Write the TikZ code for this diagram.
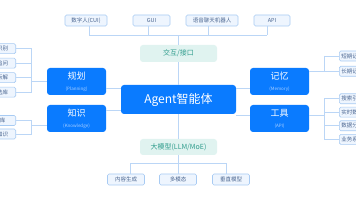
\documentclass[tikz,border=0pt]{standalone}
\usepackage{fontspec}
\setmainfont{Noto Sans CJK SC}
\definecolor{mainblue}{HTML}{0A7BFF}
\definecolor{leaffill}{HTML}{EEF5FE}
\definecolor{leafline}{HTML}{A8CBF3}
\definecolor{linkline}{HTML}{BBD6F6}
\definecolor{leaftext}{HTML}{4A6590}
\definecolor{tealfill}{HTML}{E0F3F0}
\definecolor{tealtext}{HTML}{2E9C8C}
\definecolor{subtext}{HTML}{A8CFFF}
\tikzset{
  leaf/.style={draw=leafline, fill=leaffill, rounded corners=1.5pt, line width=0.6pt,
    minimum height=10pt, minimum width=37pt, inner sep=1pt, text=leaftext,
    font=\fontsize{5.5}{6}\selectfont},
  rleaf/.style={leaf, anchor=west, text width=40pt, align=left, inner xsep=2pt},
  module/.style={fill=mainblue, rounded corners=3pt, minimum width=59pt, minimum height=27pt,
    inner sep=0pt, text=white, align=center},
  layer/.style={fill=tealfill, rounded corners=3pt, minimum width=77pt, minimum height=17pt,
    inner sep=0pt, text=tealtext, font=\fontsize{7}{8}\selectfont},
  link/.style={draw=linkline, line width=0.7pt}
}
\newcommand{\modtext}[2]{{\fontsize{9}{10}\selectfont #1}\\[-1pt]{\fontsize{4.5}{5}\selectfont\color{subtext}#2}}
\begin{document}
\begin{tikzpicture}[x=1pt,y=-1pt]
\useasboundingbox (0,0) rectangle (356,200);
\fill[white] (0,0) rectangle (356,200);
% top leaves
\node[leaf, minimum width=42pt, minimum height=11pt] (t1) at (86,20.5) {数字人(CUI)};
\node[leaf, minimum height=11pt] (t2) at (151.5,20.5) {GUI};
\node[leaf, minimum width=52pt, minimum height=11pt] (t3) at (212,20.5) {语音聊天机器人};
\node[leaf, minimum width=36pt, minimum height=11pt] (t4) at (272,20.5) {API};
\coordinate (c1) at (89,35);
\coordinate (c2) at (148,35);
\coordinate (c3) at (208,35);
\coordinate (c4) at (267,35);
% center column
\node[layer] (ui) at (178.5,53.5) {交互/接口};
\node[fill=mainblue, rounded corners=3pt, minimum width=115pt, minimum height=29pt, inner sep=0pt,
  text=white, font=\fontsize{12}{13}\selectfont] (agent) at (178.5,99.5) {Agent智能体};
\node[layer, minimum height=16pt] (llm) at (178.5,147) {大模型(LLM/MoE)};
% bottom leaves
\node[leaf, minimum height=11pt] (b1) at (126,179.5) {内容生成};
\node[leaf, minimum height=11pt] (b2) at (178,179.5) {多模态};
\node[leaf, minimum height=11pt] (b3) at (231,179.5) {垂直模型};
\coordinate (d1) at (130,163.3);
\coordinate (d2) at (178.5,163.3);
\coordinate (d3) at (226,163.3);
% modules
\node[module] (plan) at (76.5,81.5) {\modtext{规划}{(Planning)}};
\node[module] (know) at (76.5,118.5) {\modtext{知识}{(Knowledge)}};
\node[module] (mem) at (279.5,81.5) {\modtext{记忆}{(Memory)}};
\node[module] (tool) at (279.5,118.5) {\modtext{工具}{(API)}};
% left leaves
\node[leaf] (p1) at (-2.8,48.7) {意图识别};
\node[leaf] (p2) at (-2.8,63.2) {多轮追问};
\node[leaf] (p3) at (-2.8,77.7) {任务拆解};
\node[leaf] (p4) at (-2.8,92.2) {工具选库};
\node[leaf] (k1) at (-2.8,120.5) {知识库};
\node[leaf] (k2) at (-2.8,134) {领域知识};
% right leaves
\node[rleaf] (m1) at (339,56) {短期记忆};
\node[rleaf] (m2) at (339,71.3) {长期记忆};
\node[rleaf] (o1) at (339,98.8) {搜索引擎};
\node[rleaf] (o2) at (339,112.2) {实时数据};
\node[rleaf] (o3) at (339,125.8) {数据分析};
\node[rleaf] (o4) at (339,139.4) {业务系统};
% connectors top
\draw[link] (c1) -- (c4);
\draw[link] (c1) -- (c1 |- t1.south);
\draw[link] (c2) -- (c2 |- t2.south);
\draw[link] (c3) -- (c3 |- t3.south);
\draw[link] (c4) -- (c4 |- t4.south);
\draw[link] (ui.north) -- (ui.north |- c1);
\draw[link] (ui.south) -- (agent.north);
\draw[link] (agent.south) -- (llm.north);
\draw[link] (llm.south) -- (d2);
\draw[link] (d1) -- (d3);
\draw[link] (d1) -- (d1 |- b1.north);
\draw[link] (d3) -- (d3 |- b3.north);
\draw[link] (d2) -- (d2 |- b2.north);
% modules to agent
\draw[link] ([yshift=-6.5pt]plan.east) coordinate (e1) -- (e1 -| agent.west);
\draw[link] ([yshift=8.5pt]know.east) coordinate (e2) -- (e2 -| agent.west);
\draw[link] ([yshift=-6.5pt]mem.west) coordinate (e3) -- (e3 -| agent.east);
\draw[link] ([yshift=2.8pt]tool.west) coordinate (e4) -- (e4 -| agent.east);
% left buses
\coordinate (lb1) at (31.7,48.7);
\coordinate (lb2) at (31.7,92.2);
\draw[link] (lb1) -- (lb2);
\draw[link] (plan.west) -- (plan.west -| lb1);
\draw[link] (p1.east) -- (p1.east -| lb1);
\draw[link] (p2.east) -- (p2.east -| lb1);
\draw[link] (p3.east) -- (p3.east -| lb1);
\draw[link] (p4.east) -- (p4.east -| lb1);
\coordinate (lk1) at (31.7,120.5);
\coordinate (lk2) at (31.7,134);
\draw[link] (lk1) -- (lk2);
\draw[link] ([yshift=-6.5pt]know.west) coordinate (e5) -- (e5 -| lk1);
\draw[link] (k1.east) -- (k1.east -| lk1);
\draw[link] (k2.east) -- (k2.east -| lk1);
% right buses
\coordinate (rm1) at (324,56);
\coordinate (rm2) at (324,71.3);
\draw[link] (rm1) -- (rm2);
\draw[link] (m1.west) -- (m1.west -| rm1);
\draw[link] (m2.west) -- (mem.east |- m2.west);
\coordinate (ro1) at (324,98.8);
\coordinate (ro2) at (324,139.4);
\draw[link] (ro1) -- (ro2);
\draw[link] ([yshift=2.8pt]tool.east) coordinate (e6) -- (e6 -| ro1);
\draw[link] (o1.west) -- (o1.west -| ro1);
\draw[link] (o2.west) -- (o2.west -| ro1);
\draw[link] (o3.west) -- (o3.west -| ro1);
\draw[link] (o4.west) -- (o4.west -| ro1);
\end{tikzpicture}
\end{document}
